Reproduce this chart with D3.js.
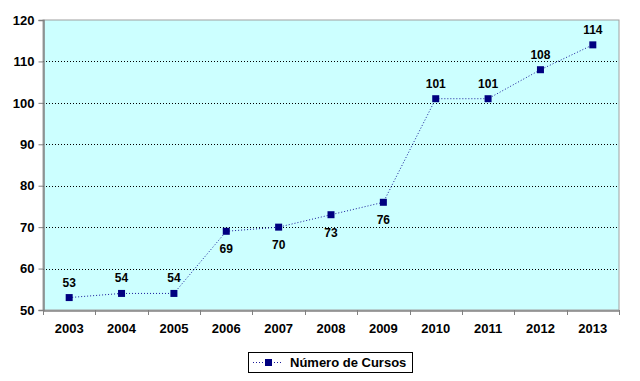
<!DOCTYPE html>
<html><head><meta charset="utf-8">
<script src="https://cdn.jsdelivr.net/npm/d3@7"></script>
<style>body{margin:0;background:#fff;}svg{display:block;font-family:"Liberation Sans",Arial,sans-serif;}</style>
</head><body>
<svg id="c" width="640" height="381"></svg>
<script>
const years = ["2003","2004","2005","2006","2007","2008","2009","2010","2011","2012","2013"];
const cursos = [53,54,54,69,70,73,76,101,101,108,114];
const labelBelow = [false,false,false,true,true,true,true,false,false,false,false];
const yTicks = [50,60,70,80,90,100,110,120];
const seriesName = "Número de Cursos";

const svg = d3.select("#c");
const L=43, T=20, R=619, B=310;
const x = d3.scaleBand().domain(years).range([L,R]);
const y = d3.scaleLinear().domain([50,120]).range([B,T]);

svg.append("rect").attr("x",L).attr("y",T).attr("width",R-L).attr("height",B-T)
  .attr("fill","#ccffff").attr("stroke","#a0a0a0").attr("stroke-width",1);

svg.append("g").selectAll("line").data(yTicks.filter(v=>v>50&&v<120)).join("line")
  .attr("x1",L).attr("x2",R).attr("y1",d=>Math.round(y(d))+0.5).attr("y2",d=>Math.round(y(d))+0.5)
  .attr("stroke","#000").attr("stroke-width",1).attr("stroke-dasharray","1,2");

const ya = svg.append("g").attr("transform",`translate(${L+0.5},0)`)
  .call(d3.axisLeft(y).tickValues(yTicks).tickSize(5).tickPadding(4));
ya.select(".domain").attr("stroke","#808080").attr("stroke-width",1.5);
ya.selectAll(".tick line").attr("stroke","#808080");
ya.selectAll("text").attr("font-size",13).attr("font-weight","bold").attr("fill","#000").attr("font-family","Liberation Sans, Arial, sans-serif");

const xa = svg.append("g").attr("transform",`translate(0,${B+0.5})`)
  .call(d3.axisBottom(x).tickSize(0).tickPadding(13));
xa.select(".domain").attr("stroke","#808080").attr("stroke-width",1.5);
xa.selectAll("text").attr("font-size",13).attr("font-weight","bold").attr("fill","#000").attr("font-family","Liberation Sans, Arial, sans-serif");
svg.append("g").selectAll("line").data(years.concat(["end"])).join("line")
  .attr("x1",(d,i)=>Math.round(L+i*x.step())+0.5).attr("x2",(d,i)=>Math.round(L+i*x.step())+0.5)
  .attr("y1",B).attr("y2",B+5).attr("stroke","#808080");

const cx = d=>x(d)+x.bandwidth()/2;
const line = d3.line().x((d,i)=>cx(years[i])).y(d=>y(d));
svg.append("path").datum(cursos).attr("d",line).attr("fill","none")
  .attr("stroke","#1a1a99").attr("stroke-width",1).attr("stroke-dasharray","1,2");

svg.append("g").selectAll("rect").data(cursos).join("rect")
  .attr("x",(d,i)=>cx(years[i])-3.5).attr("y",d=>y(d)-3.5).attr("width",7).attr("height",7)
  .attr("fill","#000080");

svg.append("g").selectAll("text").data(cursos).join("text")
  .attr("x",(d,i)=>cx(years[i])).attr("y",(d,i)=>labelBelow[i]?y(d)+22:y(d)-11)
  .attr("text-anchor","middle").attr("font-size",12).attr("font-weight","bold").attr("fill","#000")
  .text(d=>d);

const lg = svg.append("g");
lg.append("rect").attr("x",248.5).attr("y",352.5).attr("width",164).attr("height",20)
  .attr("fill","#fff").attr("stroke","#000").attr("stroke-width",1);
lg.append("line").attr("x1",253).attr("x2",283).attr("y1",362.5).attr("y2",362.5)
  .attr("stroke","#1a1a99").attr("stroke-dasharray","1,2");
lg.append("rect").attr("x",265).attr("y",359).attr("width",7).attr("height",7).attr("fill","#000080");
lg.append("text").attr("x",290).attr("y",367).attr("font-size",13).attr("font-weight","bold").text(seriesName);
</script>
</body></html>
